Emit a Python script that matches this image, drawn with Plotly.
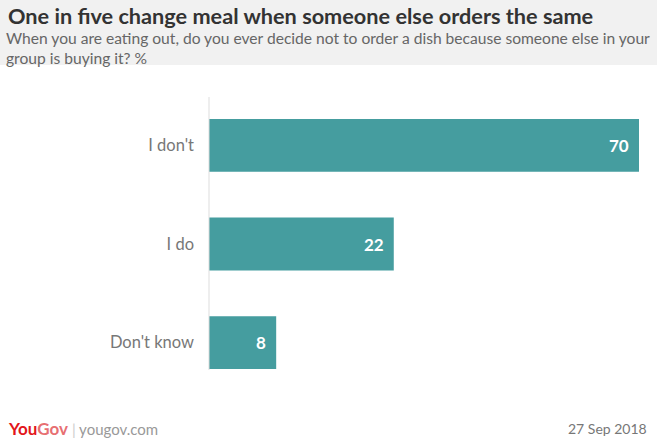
import plotly.graph_objects as go

categories = ["I don't", "I do", "Don't know"]
values = [70, 22, 8]
x_max = 51.2

title = "One in five change meal when someone else orders the same"
subtitle = "When you are eating out, do you ever decide not to order a dish because someone else in your<br>group is buying it? %"
date_text = "27 Sep 2018"

bar_color = "#459d9f"

fig = go.Figure()
fig.add_trace(go.Bar(
    y=categories, x=values, orientation="h",
    marker=dict(color=bar_color, line=dict(width=0)),
    hoverinfo="skip",
))

for c, v in zip(categories, values):
    fig.add_annotation(
        x=min(v, x_max), y=c, xref="x", yref="y",
        text="<b>%d</b>" % v, showarrow=False,
        xanchor="right", xshift=-8,
        font=dict(family="Lato", size=17, color="white"),
    )

fig.update_layout(
    width=661, height=440,
    margin=dict(l=209, r=22, t=96, b=48),
    paper_bgcolor="white", plot_bgcolor="white",
    showlegend=False, bargap=0.465,
    xaxis=dict(range=[0, x_max], visible=False, fixedrange=True),
    yaxis=dict(
        autorange="reversed", showgrid=False, zeroline=False, showline=False,
        ticks="", ticklabelstandoff=14,
        tickfont=dict(family="Lato", size=16.5, color="#777777"),
    ),
    shapes=[
        dict(type="rect", xref="paper", yref="paper", x0=-209/430, x1=(657-209)/430,
             y0=1 + 31/296, y1=1 + 96/296, fillcolor="#f1f1f1", line=dict(width=0), layer="below"),
        dict(type="line", xref="paper", yref="paper", x0=0, x1=0,
             y0=(392-370)/296, y1=1 - 1/296, line=dict(color="#dddddd", width=1)),
    ],
)

fig.add_annotation(xref="paper", yref="paper", x=-202/430, y=1 + (96-16)/296,
                   xanchor="left", yanchor="middle", showarrow=False, borderpad=0,
                   text="<b>" + title + "</b>",
                   font=dict(family="Lato", size=21.7, color="#333333"))
fig.add_annotation(xref="paper", yref="paper", x=-204/430, y=1 + (96-48)/296,
                   xanchor="left", yanchor="middle", showarrow=False, align="left", borderpad=0,
                   text=subtitle,
                   font=dict(family="Lato", size=15.6, color="#666666"))
fig.add_annotation(xref="paper", yref="paper", x=-203/430, y=-(428-392)/296,
                   xanchor="left", yanchor="middle", showarrow=False,
                   text="<span style='font-size:17px'><b><span style='color:#e3151a'>You</span><span style='color:#e76f72'>Gov</span></b></span> <span style='color:#cccccc'>|</span> <span style='color:#999999'>yougov.com</span>",
                   font=dict(family="Lato", size=15, color="#999999"))
fig.add_annotation(xref="paper", yref="paper", x=1 + 10/430, y=-(428-392)/296,
                   xanchor="right", yanchor="middle", showarrow=False,
                   text=date_text,
                   font=dict(family="Lato", size=14, color="#777777"))

fig.write_html("out.html")
